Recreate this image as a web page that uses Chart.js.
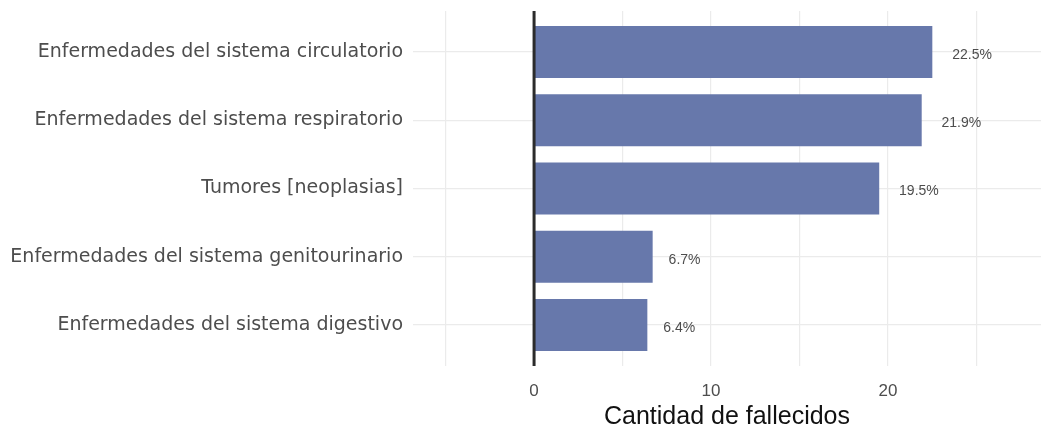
<!DOCTYPE html>
<html>
<head>
<meta charset="utf-8">
<script src="https://cdn.jsdelivr.net/npm/chart.js@4"></script>
<style>
  html, body { margin: 0; padding: 0; background: #fff; }
  #wrap { width: 1041px; height: 434px; }
</style>
</head>
<body>
<div id="wrap"><canvas id="causesChart" width="1041" height="434"></canvas></div>
<script>
// DATA
const causes = [
  'Enfermedades del sistema circulatorio',
  'Enfermedades del sistema respiratorio',
  'Tumores [neoplasias]',
  'Enfermedades del sistema genitourinario',
  'Enfermedades del sistema digestivo'
];
const deaths = [22.5, 21.9, 19.5, 6.7, 6.4];
const pctLabels = ['22.5%', '21.9%', '19.5%', '6.7%', '6.4%'];
const gridTicks = [-5, 0, 5, 10, 15, 20, 25];
const labelledTicks = [0, 10, 20];

// bars sit at positions 1..5 on a linear axis so the ends get ggplot-like padding
const points = causes.map((c, i) => ({ x: deaths[i], y: i + 1 }));

// thick line at zero + percentage labels past the bar ends
const extras = {
  id: 'extras',
  afterDatasetsDraw(chart) {
    const { ctx, chartArea, scales } = chart;
    const x0 = scales.x.getPixelForValue(0);
    ctx.save();
    ctx.strokeStyle = '#2b2b2b';
    ctx.lineWidth = 3;
    ctx.beginPath();
    ctx.moveTo(x0, chartArea.top);
    ctx.lineTo(x0, chartArea.bottom);
    ctx.stroke();

    ctx.font = '14px "Liberation Sans", Arial, sans-serif';
    ctx.fillStyle = '#4d4d4d';
    ctx.textBaseline = 'middle';
    ctx.textAlign = 'left';
    chart.getDatasetMeta(0).data.forEach((bar, i) => {
      const w = ctx.measureText(pctLabels[i]).width;
      ctx.fillText(pctLabels[i], bar.x + w * 0.5, bar.y + 3);
    });
    ctx.restore();
  }
};

new Chart(document.getElementById('causesChart').getContext('2d'), {
  type: 'bar',
  data: {
    datasets: [{
      data: points,
      backgroundColor: '#6778ab',
      barPercentage: 0.76,
      categoryPercentage: 1
    }]
  },
  options: {
    indexAxis: 'y',
    responsive: false,
    animation: false,
    layout: { padding: { top: 11, right: 0, bottom: 0, left: 0 } },
    plugins: { legend: { display: false }, tooltip: { enabled: false } },
    scales: {
      x: {
        type: 'linear',
        min: -6.84,
        max: 28.64,
        afterBuildTicks: axis => { axis.ticks = gridTicks.map(v => ({ value: v })); },
        afterFit: axis => { axis.height = 68; axis.paddingLeft = 0; axis.paddingRight = 0; },
        border: { display: false },
        grid: { color: '#ebebeb', lineWidth: 1.2, drawTicks: false },
        ticks: {
          padding: 15,
          color: '#4d4d4d',
          font: { family: '"Liberation Sans", Arial, sans-serif', size: 17 },
          callback: v => labelledTicks.includes(v) ? String(v) : ''
        },
        title: {
          display: true,
          text: 'Cantidad de fallecidos',
          color: '#111',
          font: { family: '"Liberation Sans", Arial, sans-serif', size: 25 },
          padding: { top: 0, bottom: 2 }
        }
      },
      y: {
        type: 'linear',
        reverse: true,
        offset: false,
        min: 0.4,
        max: 5.6,
        afterBuildTicks: axis => { axis.ticks = causes.map((c, i) => ({ value: i + 1 })); },
        afterFit: axis => { axis.width = 413; axis.paddingTop = 0; axis.paddingBottom = 0; },
        border: { display: false },
        grid: { color: '#ebebeb', lineWidth: 1.2, drawTicks: false, offset: false },
        ticks: {
          padding: 10,
          color: '#4d4d4d',
          font: { family: '"DejaVu Sans", Verdana, sans-serif', size: 19 },
          callback: v => causes[v - 1]
        }
      }
    }
  },
  plugins: [extras]
});
</script>
</body>
</html>
